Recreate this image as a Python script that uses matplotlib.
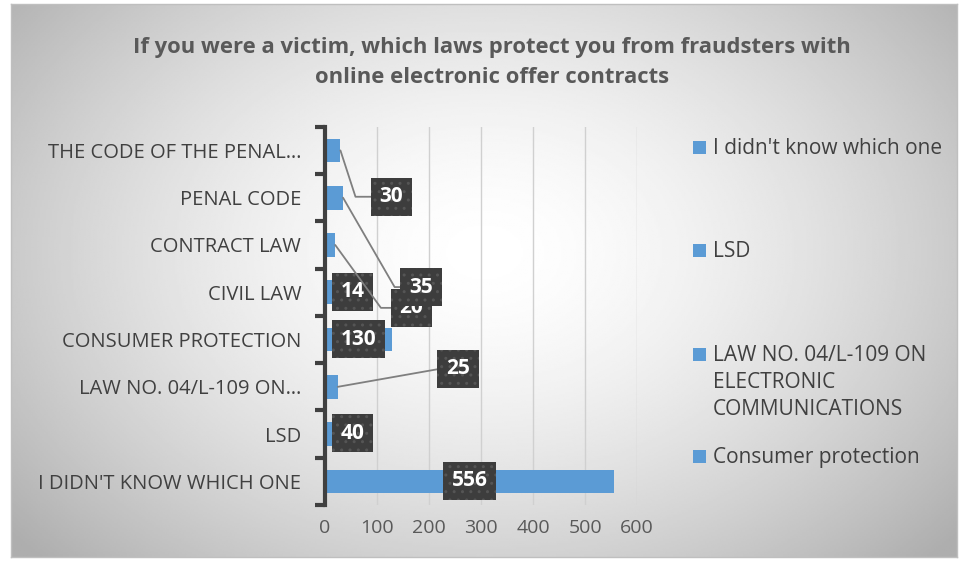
import matplotlib.pyplot as plt
import numpy as np
from matplotlib.patches import Rectangle

plt.rcParams['font.family'] = ['Open Sans', 'DejaVu Sans']

categories = ["I DIDN'T KNOW WHICH ONE", "LSD", "LAW NO. 04/L-109 ON…",
              "CONSUMER PROTECTION", "CIVIL LAW", "CONTRACT LAW",
              "PENAL CODE", "THE CODE OF THE PENAL…"]
values = [556, 40, 25, 130, 14, 20, 35, 30]
legend_labels = ["I didn't know which one", "LSD",
                 "LAW NO. 04/L-109 ON\nELECTRONIC\nCOMMUNICATIONS",
                 "Consumer protection"]
x_ticks = [0, 100, 200, 300, 400, 500, 600]

# where each data label box sits (x, y in data units) and the leader-line angle
label_pos = [(278, 0.01), (53, 1.02), (256, 2.38), (65, 3.01),
             (53, 4.01), (166, 3.67), (185, 4.11), (128, 6.02)]
leader_angle = [None, None, 10, None, None, -54, -60, -72]

bar_color = '#5B9BD5'
box_color = '#3d3d3d'

fig = plt.figure(figsize=(9.61, 5.62), dpi=100)

# background with a radial gradient
bg = fig.add_axes([0.011, 0.009, 0.985, 0.984])
yy, xx = np.mgrid[0:1:300j, 0:1:500j]
r = np.sqrt(((xx - 0.5) * 1.1) ** 2 + ((yy - 0.55) * 0.9) ** 2)
shade = 1.0 - 0.32 * np.clip(r / 0.72, 0, 1) ** 1.6
bg.imshow(shade, cmap='gray', vmin=0, vmax=1, aspect='auto',
          extent=[0, 1, 0, 1], origin='lower')
bg.set_xticks([])
bg.set_yticks([])
for s in bg.spines.values():
    s.set_color('#bfbfbf')
    s.set_linewidth(1)

ax = fig.add_axes([0.338, 0.1014, 0.325, 0.673])
ax.patch.set_alpha(0)
y = np.arange(len(categories))
ax.barh(y, values, height=0.5, color=bar_color, zorder=3)

ax.set_xlim(0, 600)
ax.set_ylim(-0.5, len(categories) - 0.5)
ax.set_xticks(x_ticks)
ax.set_xticklabels([str(t) for t in x_ticks], fontsize=14, color='#595959')
ax.tick_params(axis='x', length=0, pad=10)
ax.set_yticks(y)
ax.set_yticklabels(categories, fontsize=14.5, color='#404040')
ax.set_yticks(np.arange(-0.5, len(categories)), minor=True)
ax.tick_params(axis='y', which='major', length=0, pad=17)
ax.tick_params(axis='y', which='minor', length=7, width=3, color='#404040')
ax.grid(axis='x', color='#d0d0d0', linewidth=1, zorder=0)
for s in ['top', 'right', 'bottom']:
    ax.spines[s].set_visible(False)
ax.spines['left'].set_color('#404040')
ax.spines['left'].set_linewidth(3)
ax.spines['left'].set_zorder(4)

for i, v in enumerate(values):
    tx, ty = label_pos[i]
    ang = leader_angle[i]
    props = None
    if ang is not None:
        props = dict(arrowstyle='-', color='#7f7f7f', lw=1.3,
                     connectionstyle=f'angle,angleA=0,angleB={ang},rad=0',
                     shrinkA=0, shrinkB=0)
    ax.annotate(str(v), xy=(v, i), xytext=(tx, ty), textcoords='data',
                ha='center', va='center', fontsize=15, fontweight='bold',
                color='white', zorder=6, arrowprops=props,
                bbox=dict(boxstyle='square,pad=0.42', facecolor=box_color,
                          edgecolor='#555555', hatch='..', linewidth=0))

# title
fig.text(0.512, 0.889, 'If you were a victim, which laws protect you from fraudsters with\n'
         'online electronic offer contracts', ha='center', va='center',
         fontsize=15.8, fontweight='bold', color='#595959', linespacing=1.6)

# legend
leg_y = [148, 251, 355, 457]
for lab, py in zip(legend_labels, leg_y):
    fy = 1 - py / 562
    fig.patches.append(Rectangle((693 / 961, fy - 6 / 562), 13 / 961, 13 / 562,
                                 transform=fig.transFigure, facecolor=bar_color,
                                 edgecolor='none'))
    fig.text(713 / 961, fy, lab, ha='left', va='top' if '\n' in lab else 'center',
             fontsize=15, color='#404040', linespacing=1.38,
             transform=fig.transFigure)
# adjust multi-line label so first line is centred on marker
fig.texts[-2].set_y(1 - (355 - 10) / 562)

fig.savefig('out.png', dpi=100)
